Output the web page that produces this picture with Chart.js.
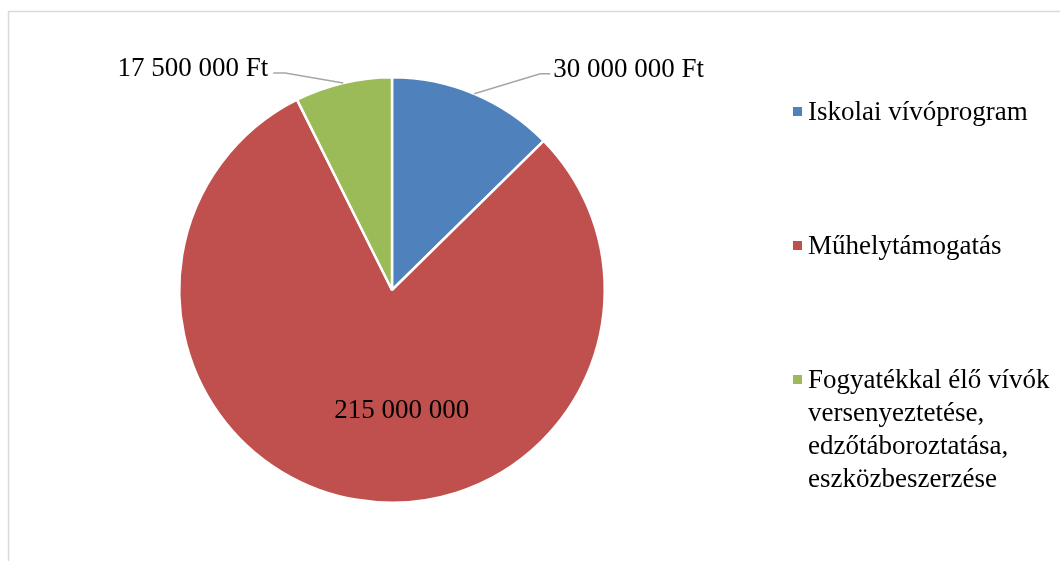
<!DOCTYPE html>
<html>
<head>
<meta charset="utf-8">
<script src="https://cdn.jsdelivr.net/npm/chart.js@4"></script>
<style>
  html, body { margin: 0; padding: 0; background: #fff; }
  #wrap { position: relative; width: 1060px; height: 561px; }
</style>
</head>
<body>
<div id="wrap"><canvas id="myChart" width="1060" height="561"></canvas></div>
<script>
const categories = [
  "Iskolai vívóprogram",
  "Műhelytámogatás",
  "Fogyatékkal élő vívók versenyeztetése, edzőtáboroztatása, eszközbeszerzése",
];
const legendLines = [
  ["Iskolai vívóprogram"],
  ["Műhelytámogatás"],
  ["Fogyatékkal élő vívók", "versenyeztetése,", "edzőtáboroztatása,", "eszközbeszerzése"],
];
const values = [30000000, 190000000, 17500000];
const valueLabels = ["30 000 000 Ft", "215 000 000", "17 500 000 Ft"];
const colors = ["#4F81BD", "#C0504D", "#9BBB59"];

// where each value label goes, relative to its slice
const labelPlace = [
  { mode: "out", dx: 66, dy: -20, side: 1, len: 10, gap: 3 },
  { mode: "in", dist: 0.58, dx: 30, dy: 6 },
  { mode: "out", dx: -58, dy: -10, side: -1, len: 12, gap: 5 },
];

const FONT = '27px "Liberation Serif", "Times New Roman", serif';

const frame = {
  id: "frame",
  beforeDraw(chart) {
    const ctx = chart.ctx;
    ctx.save();
    ctx.strokeStyle = "#D9D9D9";
    ctx.lineWidth = 1.5;
    ctx.beginPath();
    ctx.moveTo(8.5, chart.height + 5);
    ctx.lineTo(8.5, 11.5);
    ctx.lineTo(chart.width + 5, 11.5);
    ctx.stroke();
    ctx.restore();
  },
};

const valueTags = {
  id: "valueTags",
  afterDatasetsDraw(chart) {
    const ctx = chart.ctx;
    const meta = chart.getDatasetMeta(0);
    ctx.save();
    ctx.font = FONT;
    ctx.fillStyle = "#000";
    ctx.textBaseline = "alphabetic";
    meta.data.forEach(function (arc, i) {
      const p = arc.getProps(["x", "y", "startAngle", "endAngle", "outerRadius"], true);
      const mid = (p.startAngle + p.endAngle) / 2;
      const pl = labelPlace[i];
      if (pl.mode == "in") {
        const tx = p.x + Math.cos(mid) * p.outerRadius * pl.dist + pl.dx;
        const ty = p.y + Math.sin(mid) * p.outerRadius * pl.dist + pl.dy;
        ctx.textAlign = "center";
        ctx.fillText(valueLabels[i], tx, ty);
      } else {
        const sx = p.x + Math.cos(mid) * p.outerRadius;
        const sy = p.y + Math.sin(mid) * p.outerRadius;
        const ex = sx + pl.dx;
        const ey = sy + pl.dy;
        const hx = ex + pl.side * pl.len;
        ctx.strokeStyle = "#A6A6A6";
        ctx.lineWidth = 1.5;
        ctx.beginPath();
        ctx.moveTo(sx, sy);
        ctx.lineTo(ex, ey);
        ctx.lineTo(hx, ey);
        ctx.stroke();
        ctx.textAlign = pl.side > 0 ? "left" : "right";
        ctx.fillText(valueLabels[i], hx + pl.side * pl.gap, ey + 3.5);
      }
    });
    ctx.restore();
  },
};

const sideLegend = {
  id: "sideLegend",
  afterDraw(chart) {
    const ctx = chart.ctx;
    ctx.save();
    ctx.font = FONT;
    ctx.textAlign = "left";
    ctx.textBaseline = "alphabetic";
    let base = 120;
    for (let i = 0; i < legendLines.length; i++) {
      ctx.fillStyle = colors[i];
      ctx.fillRect(793, base - 13, 9, 9);
      ctx.fillStyle = "#000";
      for (let j = 0; j < legendLines[i].length; j++) {
        ctx.fillText(legendLines[i][j], 808, base + j * 33);
      }
      base += 134;
    }
    ctx.restore();
  },
};

const data = {
  labels: categories,
  datasets: [
    {
      data: values,
      backgroundColor: colors,
      borderColor: "#FFFFFF",
      borderWidth: 2.5,
    },
  ],
};

const config = {
  type: "pie",
  data: data,
  options: {
    responsive: false,
    animation: false,
    layout: { padding: { left: 178, right: 454, top: 76, bottom: 57 } },
    plugins: {
      legend: { display: false },
      tooltip: { enabled: false },
    },
  },
  plugins: [frame, valueTags, sideLegend],
};

new Chart(document.getElementById("myChart"), config);
</script>
</body>
</html>
